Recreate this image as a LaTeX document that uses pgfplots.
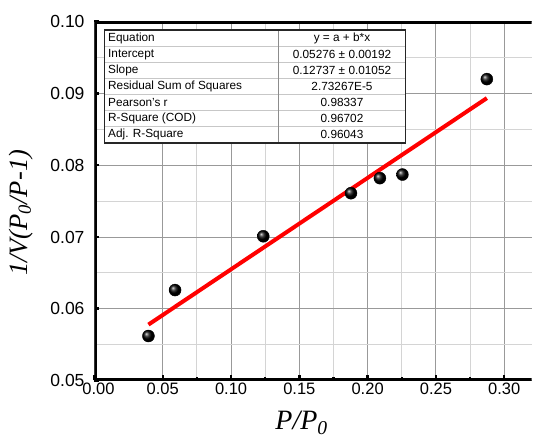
\documentclass[border=0pt]{standalone}
\usepackage{pgfplots}
\pgfplotsset{compat=1.18}
\usepackage{fontspec}
\setmainfont{Liberation Sans}
\newfontfamily\timesfont{Liberation Serif}
\begin{document}
\begin{tikzpicture}
\begin{axis}[
  scale only axis, width=437pt, height=358.8pt,
  xmin=0, xmax=0.32, ymin=0.05, ymax=0.10,
  xtick={0.05,0.10,0.15,0.20,0.25,0.30},
  extra x ticks={0},
  extra x tick style={xticklabel style={xshift=4pt}},
  ytick={0.05,0.06,0.07,0.08,0.09,0.10},
  minor x tick num=1, minor y tick num=1,
  grid=both,
  major grid style={black!40, line width=0.9pt},
  minor grid style={black!17, line width=0.9pt},
  axis line style={draw=none},
  tick align=inside, xtick pos=left, ytick pos=left,
  major tick length=5pt, minor tick length=3pt,
  tick style={black, line width=2.5pt},
  /pgf/number format/assume math mode=true,
  /pgf/number format/fixed,
  /pgf/number format/fixed zerofill,
  /pgf/number format/precision=2,
  scaled ticks=false,
  xticklabel style={font=\fontsize{16.5}{19}\selectfont, yshift=1.5pt},
  yticklabel style={font=\fontsize{17.5}{20}\selectfont, xshift=-6.5pt},
  xlabel={P/P\textsubscript{0}},
  ylabel={1/V(P\textsubscript{0}/P-1)},
  xlabel style={font=\timesfont\itshape\fontsize{28}{32}\selectfont,
    at={(axis description cs:0.474,-0.118)}, anchor=center},
  ylabel style={font=\timesfont\itshape\fontsize{26.5}{30}\selectfont,
    at={(axis description cs:-0.169,0.467)}, anchor=center},
]
\addplot[red, line width=4pt, no marks] coordinates {(0.0395,0.05779) (0.2873,0.08935)};
\addplot[only marks, mark=ball, mark size=6pt, ball color=black] coordinates {
  (0.0395,0.0562) (0.0590,0.0626) (0.1236,0.0701) (0.1878,0.0761)
  (0.2090,0.0782) (0.2255,0.0787) (0.2873,0.0920)};
\draw[line width=4.5pt, line join=miter] (rel axis cs:1,1) -- (rel axis cs:0,1) -- (rel axis cs:0,0) -- (rel axis cs:1,0);
\end{axis}
\begin{scope}[shift={(current axis.south west)}, x=1pt, y=1pt]
  \fill[white] (10,237.5) rectangle (311,350.5);
  \foreach \i in {1,...,6} {
    \draw[black!22, line width=0.9pt] (10,{350.5-\i*16.143}) -- (311,{350.5-\i*16.143});
  }
  \draw[black!45, line width=0.9pt] (184,237.5) -- (184,350.5);
  \draw[black!85, line width=1.1pt] (10,237.5) rectangle (311,350.5);
  \foreach \i/\a/\b in {1/Equation/{y = a + b*x},
                        2/Intercept/{0.05276 ± 0.00192},
                        3/Slope/{0.12737 ± 0.01052},
                        4/{Residual Sum of Squares}/{2.73267E-5},
                        5/{Pearson's r}/{0.98337},
                        6/{R-Square (COD)}/{0.96702},
                        7/{Adj. R-Square}/{0.96043}} {
    \node[anchor=west, inner sep=0pt, font=\fontsize{11.8}{13}\selectfont]
      at (13.5,{350.5-(\i-0.5)*16.143}) {\a};
    \node[anchor=center, inner sep=0pt, font=\fontsize{11.8}{13}\selectfont]
      at (247.5,{350.5-(\i-0.5)*16.143}) {\b};
  }
\end{scope}
\pgfresetboundingbox
\path[use as bounding box] (current axis.south west) ++(-94.5pt,-57.5pt) rectangle ++(533pt,438pt);
\end{tikzpicture}
\end{document}
